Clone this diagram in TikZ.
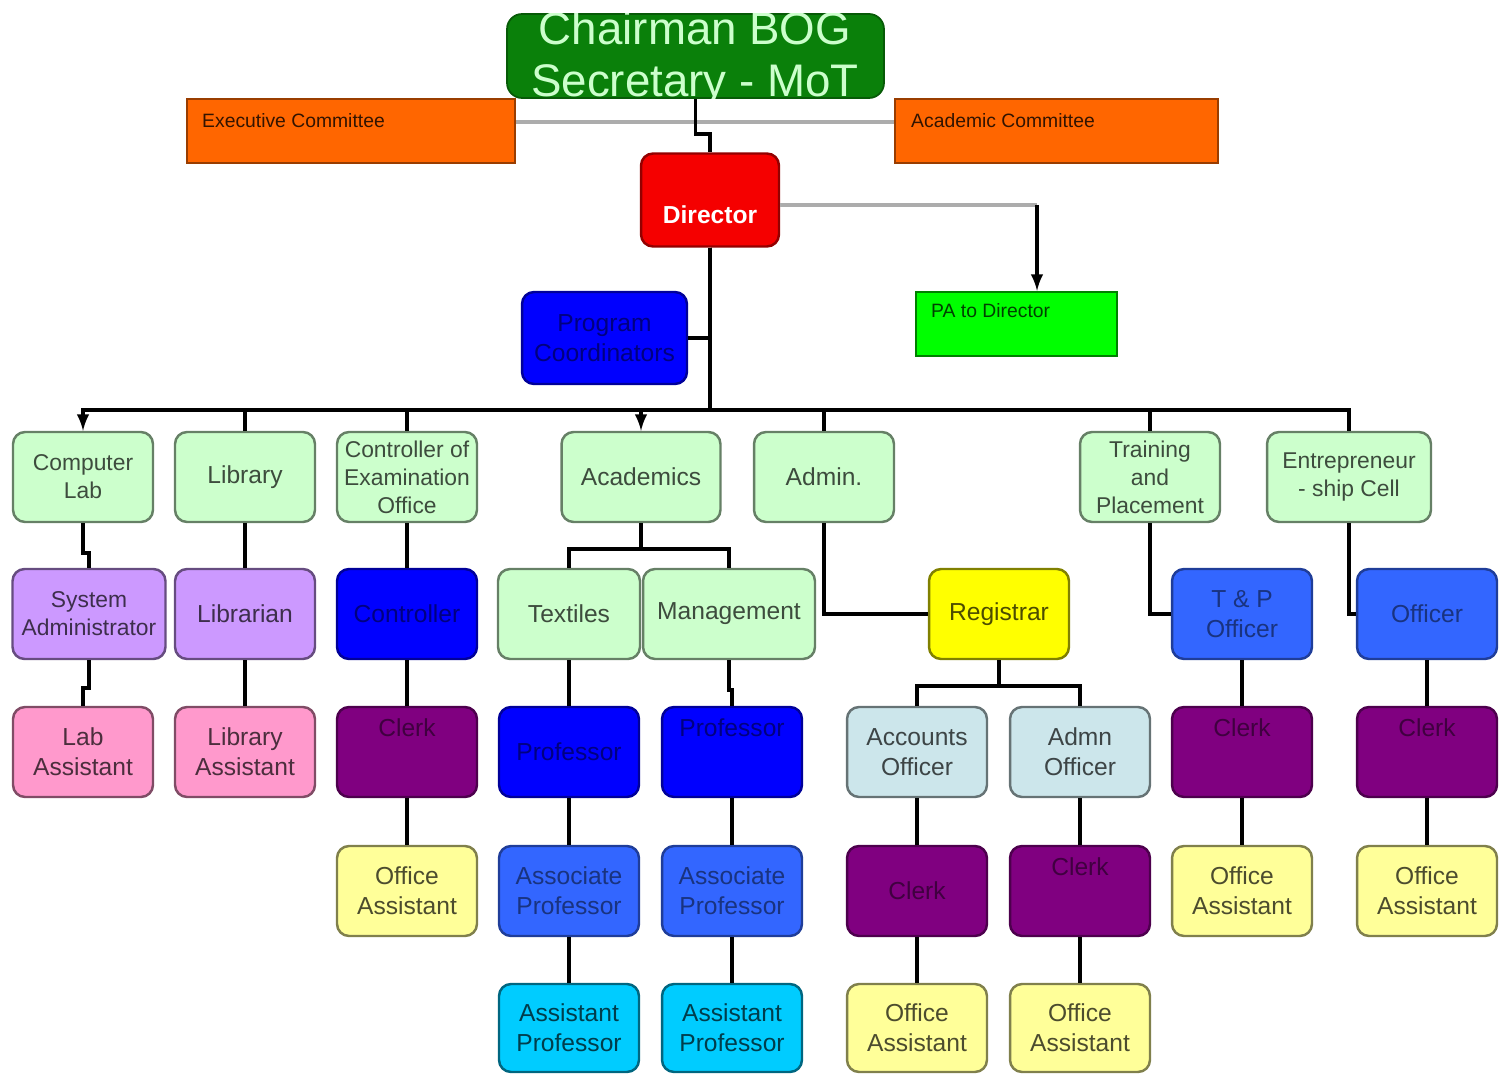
\documentclass[tikz,border=0pt]{standalone}
\usepackage{fontspec}
\setmainfont{Liberation Sans}
\usepackage{tikz}

\definecolor{deptgreen}{RGB}{204,255,204}
\definecolor{staffviolet}{RGB}{204,153,255}
\definecolor{staffpink}{RGB}{255,153,204}
\definecolor{headblue}{RGB}{0,0,255}
\definecolor{clerkpurple}{RGB}{128,0,128}
\definecolor{assistyellow}{RGB}{255,255,153}
\definecolor{assocblue}{RGB}{51,102,255}
\definecolor{asstcyan}{RGB}{0,204,255}
\definecolor{officerblue}{RGB}{204,230,235}
\definecolor{regyellow}{RGB}{255,255,0}
\definecolor{dirred}{RGB}{245,0,0}
\definecolor{bogreen}{RGB}{10,128,10}
\definecolor{comorange}{RGB}{255,102,0}
\definecolor{pagreen}{RGB}{0,255,0}

\begin{document}
\begin{tikzpicture}[x=0.02cm,y=-0.02cm,
  box/.style={rounded corners=0.24cm,line width=1.4pt,minimum width=2.8cm,minimum height=1.8cm,align=center,inner sep=1pt,font=\fontsize{14}{17}\selectfont},
  tone/.style={fill=#1,draw=#1!50!black,text=#1!30!black},
  darktone/.style={fill=#1,draw=#1!60!black,text=#1!50!black},
  small/.style={font=\fontsize{13}{16}\selectfont},
  uptext/.style={text depth=0.96cm},
  board/.style={draw=comorange!60!black,fill=comorange,line width=1.4pt,minimum height=1.28cm},
  boardtext/.style={anchor=west,font=\fontsize{11}{13}\selectfont},
  conn/.style={line width=2.2pt,black},
  link/.style={line width=2.6pt,gray!65}]

\useasboundingbox (0,0) rectangle (1505,1074);

% top of the chart
\node at (351,131) [board,minimum width=6.56cm] (exec) {};
\node at (1056.5,131) [board,minimum width=6.46cm] (acadcom) {};
\node at (196,121) [boardtext,text=comorange!20!black] (exectext) {Executive Committee};
\node at (905,121) [boardtext,text=comorange!20!black] (acadcomtext) {Academic Committee};
\node at (1016.5,324) [draw=pagreen!50!black,fill=pagreen,line width=1.4pt,minimum width=4.02cm,minimum height=1.28cm] (pa) {};
\node at (925,311) [boardtext,text=pagreen!25!black] (patext) {PA to Director};

\node at (695.5,56) [fill=bogreen,draw=bogreen!70!black,line width=1pt,rounded corners=0.3cm,minimum width=7.54cm,minimum height=1.68cm] (chair) {};
\begin{scope}
  \clip[rounded corners=0.3cm] (chair.south west) rectangle (chair.north east);
  \node at (695,45) [anchor=base,text=deptgreen,font=\fontsize{26}{30}\selectfont] (chairtop) {Chairman BOG};
  \node at (695,97) [anchor=base,text=deptgreen,font=\fontsize{26}{30}\selectfont] (chairbot) {Secretary - MoT};
\end{scope}

\node at (710,200) [box,fill=dirred,draw=dirred!60!black,text=white,minimum width=2.76cm,minimum height=1.86cm,text height=0.96cm,font=\bfseries\fontsize{14}{17}\selectfont] (director) {Director};
\node at (604.5,338) [box,darktone=headblue,minimum width=3.3cm,minimum height=1.84cm] (prog) {Program\\Coordinators};

% first row
\node at (83,477) [box,tone=deptgreen,small] (complab) {Computer\\Lab};
\node at (245,477) [box,tone=deptgreen] (library) {Library};
\node at (407,477) [box,tone=deptgreen,small] (coe) {Controller of\\Examination\\Office};
\node at (641,477) [box,tone=deptgreen,minimum width=3.18cm] (acad) {Academics};
\node at (824,477) [box,tone=deptgreen] (admin) {Admin.};
\node at (1150,477) [box,tone=deptgreen,small] (training) {Training\\and\\Placement};
\node at (1349,477) [box,tone=deptgreen,small,minimum width=3.28cm] (entre) {Entrepreneur\\- ship Cell};

% second row
\node at (89,614) [box,tone=staffviolet,small,minimum width=3.06cm] (sysadmin) {System\\Administrator};
\node at (245,614) [box,tone=staffviolet] (librarian) {Librarian};
\node at (407,614) [box,darktone=headblue] (controller) {Controller};
\node at (569,614) [box,tone=deptgreen,minimum width=2.84cm] (textiles) {Textiles};
\node at (729,614) [box,tone=deptgreen,minimum width=3.44cm] (mgmt) {Management};
\node at (999,614) [box,tone=regyellow] (registrar) {Registrar};
\node at (1242,614) [box,darktone=assocblue] (tpo) {T \& P\\Officer};
\node at (1427,614) [box,darktone=assocblue] (officer) {Officer};

% third row
\node at (83,752) [box,tone=staffpink] (labasst) {Lab\\Assistant};
\node at (245,752) [box,tone=staffpink] (libasst) {Library\\Assistant};
\node at (407,752) [box,darktone=clerkpurple,uptext] (coeclerk) {Clerk};
\node at (569,752) [box,darktone=headblue] (tprof) {Professor};
\node at (732,752) [box,darktone=headblue,uptext] (mprof) {Professor};
\node at (917,752) [box,tone=officerblue] (accounts) {Accounts\\Officer};
\node at (1080,752) [box,tone=officerblue] (admn) {Admn\\Officer};
\node at (1242,752) [box,darktone=clerkpurple,uptext] (tpclerk) {Clerk};
\node at (1427,752) [box,darktone=clerkpurple,uptext] (ecclerk) {Clerk};

% fourth row
\node at (407,891) [box,tone=assistyellow] (coeoa) {Office\\Assistant};
\node at (569,891) [box,darktone=assocblue] (tassoc) {Associate\\Professor};
\node at (732,891) [box,darktone=assocblue] (massoc) {Associate\\Professor};
\node at (917,891) [box,darktone=clerkpurple] (accclerk) {Clerk};
\node at (1080,891) [box,darktone=clerkpurple,uptext] (admclerk) {Clerk};
\node at (1242,891) [box,tone=assistyellow] (tpoa) {Office\\Assistant};
\node at (1427,891) [box,tone=assistyellow] (ecoa) {Office\\Assistant};

% fifth row
\node at (569,1028) [box,tone=asstcyan,minimum height=1.76cm] (tasst) {Assistant\\Professor};
\node at (732,1028) [box,tone=asstcyan,minimum height=1.76cm] (masst) {Assistant\\Professor};
\node at (917,1028) [box,tone=assistyellow,minimum height=1.76cm] (accoa) {Office\\Assistant};
\node at (1080,1028) [box,tone=assistyellow,minimum height=1.76cm] (admoa) {Office\\Assistant};

% connectors
\draw[link] ([yshift=0.18cm]exec.east) -- ([yshift=0.18cm]acadcom.west);
\draw[conn] (chair.south) -- ++(0,35) -| (director.north);
\coordinate (pacorner) at (1037,205);
\draw[link] (director.east |- pacorner) -- (pacorner);
\draw[conn,-latex] (pacorner) -- (pacorner |- pa.north);
\draw[conn] (prog.east) -- (prog.east -| director.south);
\draw[conn,-latex] (director.south) -- ++(0,162) -| (complab.north);
\draw[conn,-latex] (director.south) -- ++(0,162) -| (acad.north);
\foreach \d in {library,coe,admin,training,entre}
  \draw[conn] (director.south) -- ++(0,162) -| (\d.north);

\draw[conn] (complab.south) -- ++(0,30) -| (sysadmin.north);
\draw[conn] (sysadmin.south) -- ++(0,28) -| (labasst.north);
\draw[conn] (mgmt.south) -- ++(0,30) -| (mprof.north);
\foreach \a/\b in {library/librarian,librarian/libasst,coe/controller,controller/coeclerk,coeclerk/coeoa,
    textiles/tprof,tprof/tassoc,tassoc/tasst,mprof/massoc,massoc/masst,
    accounts/accclerk,accclerk/accoa,admn/admclerk,admclerk/admoa,
    tpo/tpclerk,tpclerk/tpoa,officer/ecclerk,ecclerk/ecoa}
  \draw[conn] (\a.south) -- (\b.north);
\foreach \b in {textiles,mgmt}
  \draw[conn] (acad.south) -- ++(0,26) -| (\b.north);
\draw[conn] (admin.south) |- (registrar.west);
\foreach \b in {accounts,admn}
  \draw[conn] (registrar.south) -- ++(0,26) -| (\b.north);
\draw[conn] (training.south) |- (tpo.west);
\draw[conn] (entre.south) |- (officer.west);

\end{tikzpicture}
\end{document}
